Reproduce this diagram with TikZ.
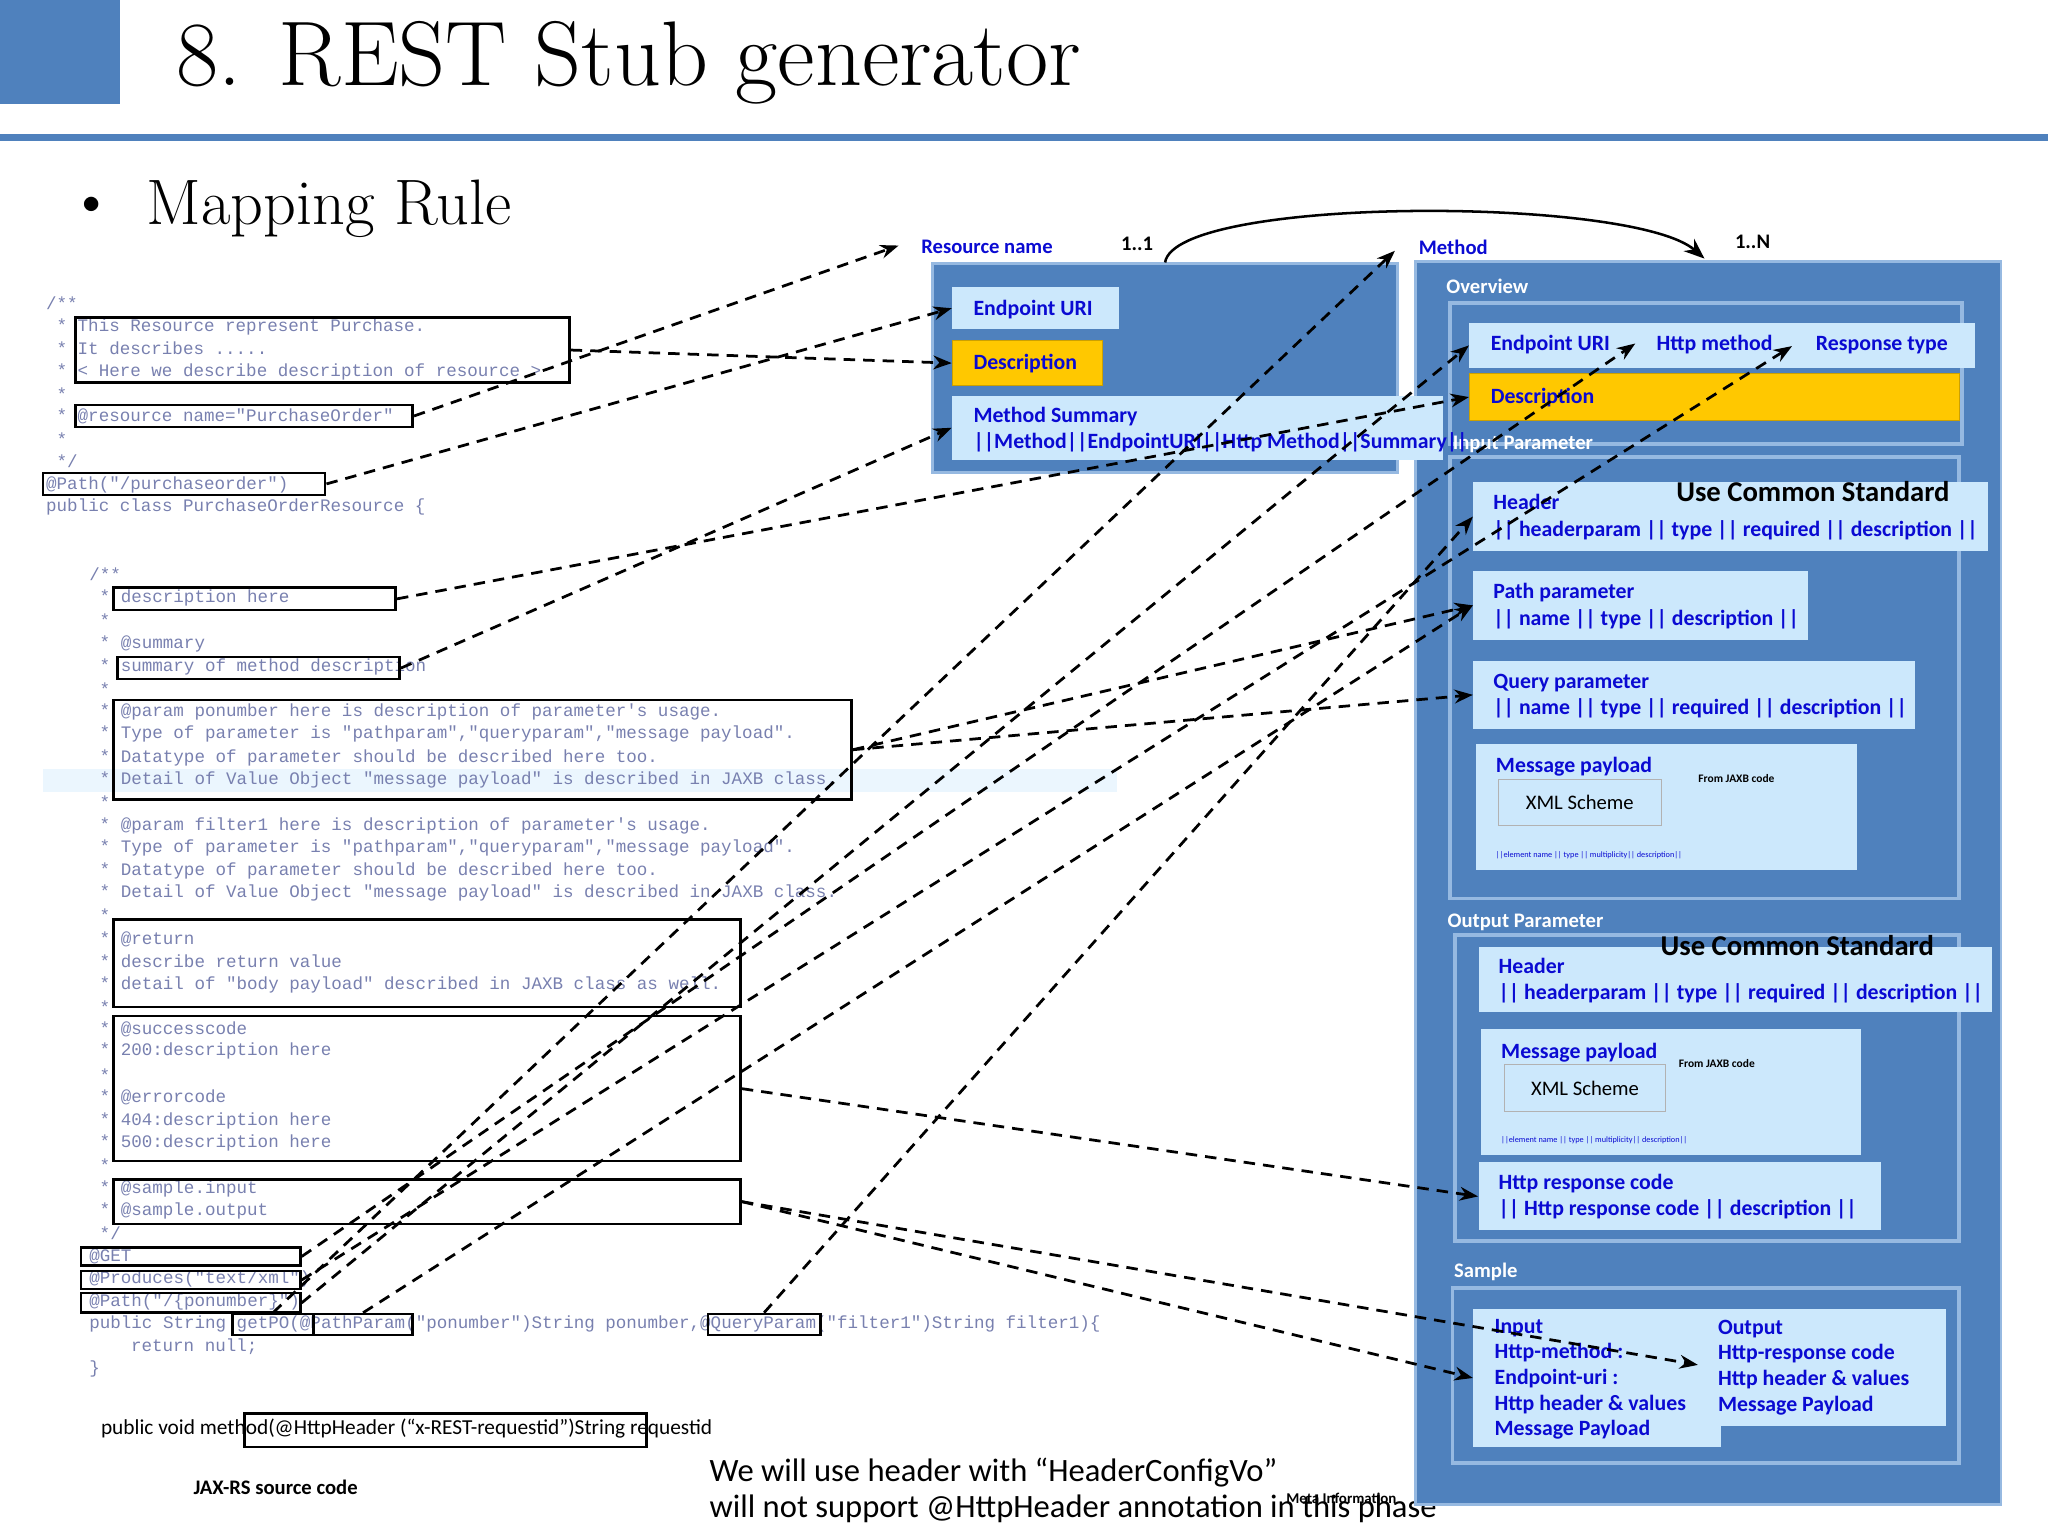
\documentclass[tikz,border=0pt]{standalone}
\usepackage{fontspec}
\usetikzlibrary{calc, arrows.meta, fit}
\newfontfamily\labelfont{Carlito}
\newfontfamily\codefont{Liberation Mono}
\definecolor{boxBlue}{RGB}{79,129,189}
\definecolor{frameBlue}{RGB}{150,185,225}
\definecolor{lightBlue}{RGB}{204,232,252}
\definecolor{textBlue}{RGB}{10,10,210}
\definecolor{descYellow}{RGB}{255,200,0}
\definecolor{codeGray}{RGB}{120,128,175}

\begin{document}
\begin{tikzpicture}[
    x=0.02cm, y=-0.02cm,
    code/.style={anchor=west, inner sep=0, text=codeGray, font=\codefont\fontsize{7.65}{8}\selectfont},
    cbox/.style={draw=black, line width=1.1pt, inner sep=0},
    bigbox/.style={fill=boxBlue, draw=frameBlue, line width=1.2pt, inner sep=0},
    lbox/.style={fill=lightBlue, inner sep=0},
    ybox/.style={fill=descYellow, draw=descYellow!80!black, inner sep=0},
    frame/.style={draw=frameBlue, line width=1.5pt, inner sep=0},
    lbl/.style={anchor=west, inner sep=0, text=textBlue, font=\labelfont\bfseries\fontsize{9.5}{11.5}\selectfont, align=left},
    sec/.style={anchor=west, inner sep=0, text=white, font=\labelfont\bfseries\fontsize{9}{11}\selectfont},
    ucs/.style={inner sep=0, font=\labelfont\bfseries\fontsize{12.5}{14}\selectfont},
    small/.style={anchor=west, inner sep=0, font=\labelfont\bfseries\fontsize{5}{6}\selectfont},
    tiny/.style={anchor=west, inner sep=0, text=textBlue, font=\labelfont\fontsize{3.6}{4}\selectfont},
    link/.style={draw=black, line width=1.2pt, dash pattern=on 5pt off 3.5pt, -{Stealth[length=8pt, width=6pt]}}
]
    \useasboundingbox (0,0) rectangle (1568,1176);

    % --- HEADER ---
    \fill[boxBlue] (0,0) rectangle (92,80);
    \draw[boxBlue, line width=3pt] (0,105) -- (1568,105);
    \node[anchor=west, inner sep=0, font=\fontsize{40}{44}\selectfont] (title) at (135,48) {8. REST Stub generator};
    \node[anchor=west, inner sep=0, font=\fontsize{28}{30}\selectfont] (bullet) at (52,160) {\textbullet};
    \node[anchor=west, inner sep=0, font=\fontsize{28}{30}\selectfont] (mapRule) at (112,160) {Mapping Rule};

    % --- JAX-RS CODE ---
    \fill[lightBlue!40] (33,589) rectangle (855,606);
    \node[code] at (35,232) {/**};
    \foreach \y/\t in {250/{* This Resource represent Purchase.}, 267/{* It describes .....},
        285/{* < Here we describe description of resource >}, 302/{*}, 319/{* @resource name="PurchaseOrder"},
        336/{*}, 353/{*/}} {
        \node[code] at (43,\y) {\t};
    }
    \node[code] at (35,371) {@Path("/purchaseorder")};
    \node[code] at (35,388) {public class PurchaseOrderResource \{};
    \node[code] at (68,440) {/**};
    \foreach \y/\t in {458/{* description here}, 475/{*}, 493/{* @summary}, 511/{* summary of method description}, 528/{*},
        545/{* @param ponumber here is description of parameter's usage.},
        562/{* Type of parameter is "pathparam","queryparam","message payload".},
        580/{* Datatype of parameter should be described here too.},
        597/{* Detail of Value Object "message payload" is described in JAXB class.}, 614/{*},
        632/{* @param filter1 here is description of parameter's usage.},
        649/{* Type of parameter is "pathparam","queryparam","message payload".},
        667/{* Datatype of parameter should be described here too.},
        684/{* Detail of Value Object "message payload" is described in JAXB class.}, 701/{*},
        719/{* @return}, 736/{* describe return value},
        754/{* detail of "body payload" described in JAXB class as well.}, 771/{*},
        788/{* @successcode}, 805/{* 200:description here}, 823/{*}, 840/{* @errorcode},
        858/{* 404:description here}, 875/{* 500:description here}, 892/{*},
        910/{* @sample.input}, 927/{* @sample.output}, 944/{*/}} {
        \node[code] at (76,\y) {\t};
    }
    \node[code] at (68,962) {@GET};
    \node[code] at (68,979) {@Produces("text/xml")};
    \node[code] at (68,997) {@Path("/\{ponumber\}")};
    \node[code] at (68,1014) {public String getPO(@PathParam("ponumber")String ponumber,@QueryParam("filter1")String filter1)\{};
    \node[code] at (100,1031) {return null;};
    \node[code] at (68,1048) {\}};

    % marked parts of the code
    \node[cbox, fit={(58,243) (436,293)}] (resDesc) {};
    \node[cbox, fit={(58,310) (316,327)}] (resName) {};
    \node[cbox, fit={(33,362) (249,379)}] (resPath) {};
    \node[cbox, fit={(87,450) (303,467)}] (mDescHere) {};
    \node[cbox, fit={(90,503) (306,520)}] (mSummary) {};
    \node[cbox, fit={(87,536) (652,612)}] (mParam) {};
    \node[cbox, fit={(87,704) (567,771)}] (mReturn) {};
    \node[cbox, fit={(87,778) (567,889)}] (mCodes) {};
    \node[cbox, fit={(87,903) (567,937)}] (mSample) {};
    \node[cbox, fit={(62,955) (230,969)}] (mGet) {};
    \node[cbox, fit={(62,973) (230,987)}] (mProduces) {};
    \node[cbox, fit={(62,990) (230,1005)}] (mPath) {};
    \node[cbox, fit={(178,1006) (240,1022)}] (mGetPO) {};
    \node[cbox, fit={(240,1006) (316,1022)}] (mPathParam) {};
    \node[cbox, fit={(542,1006) (628,1022)}] (mQueryParam) {};

    \node[anchor=west, inner sep=0, font=\labelfont\fontsize{9.3}{11}\selectfont] (httpHeader) at (77,1094)
        {public void method(@HttpHeader (“x-REST-requestid”)String requestid};
    \node[cbox, fit={(187,1082) (495,1108)}] (hdrMark) {};
    \node[inner sep=0, font=\labelfont\bfseries\fontsize{9}{11}\selectfont] (jaxrs) at (211,1139) {JAX-RS source code};
    \node[anchor=west, inner sep=0, align=left, font=\labelfont\fontsize{14.2}{16}\selectfont] (note) at (543,1141)
        {We will use header with “HeaderConfigVo”\\will not support @HttpHeader annotation in this phase};

    % --- METHOD BOX ---
    \node[bigbox, fit={(1084,200) (1532,1152)}] (methBox) {};
    \node[lbl, font=\labelfont\bfseries\fontsize{9}{11}\selectfont] (methLbl) at (1086,189) {Method};
    \node[anchor=west, inner sep=0, font=\labelfont\bfseries\fontsize{9}{11}\selectfont] (oneN) at (1328,185) {1..N};
    \node[sec] (overview) at (1107,219) {Overview};
    \node[frame, fit={(1110,232) (1502,340)}] (frmOverview) {};
    \node[lbox, fit={(1125,247) (1512,282)}] (rTop) {};
    \node[lbl] (rEp) at (1141,264) {Endpoint URI};
    \node[lbl] (rHttp) at (1268,264) {Http method};
    \node[lbl] (rResp) at (1390,264) {Response type};
    \node[ybox, fit={(1125,286) (1500,322)}] (rDesc) {};
    \node[lbl] at (1141,304) {Description};

    \node[sec] (inParam) at (1112,340) {Input Parameter};
    \node[frame, fit={(1110,350) (1500,688)}] (frmIn) {};
    \node[lbox, fit={(1128,369) (1522,422)}] (hdrIn) {};
    \node[lbl] at (1143,396) {Header\\|| headerparam || type || required || description ||};
    \node[ucs] at (1388,376) {Use Common Standard};
    \node[lbox, fit={(1128,437) (1384,490)}] (pathP) {};
    \node[lbl] at (1143,464) {Path parameter\\|| name || type || description ||};
    \node[lbox, fit={(1128,506) (1466,558)}] (queryP) {};
    \node[lbl] at (1143,533) {Query parameter\\|| name || type || required || description ||};
    \node[lbox, fit={(1130,570) (1422,666)}] (msgIn) {};
    \node[lbl] at (1145,587) {Message payload};
    \node[small] at (1300,596) {From JAXB code};
    \node[lbox, draw=gray!60, fit={(1147,597) (1272,632)}] (xmlIn) {};
    \node[font=\labelfont\fontsize{9}{11}\selectfont] at (xmlIn) {XML Scheme};
    \node[tiny] at (1145,655) {||element name || type || multiplicity|| description||};

    \node[sec] (outParam) at (1108,706) {Output Parameter};
    \node[frame, fit={(1114,716) (1500,950)}] (frmOut) {};
    \node[lbox, fit={(1132,725) (1525,775)}] (hdrOut) {};
    \node[lbl] at (1147,751) {Header\\|| headerparam || type || required || description ||};
    \node[ucs] at (1376,724) {Use Common Standard};
    \node[lbox, fit={(1134,788) (1425,884)}] (msgOut) {};
    \node[lbl] at (1149,806) {Message payload};
    \node[small] at (1285,814) {From JAXB code};
    \node[lbox, draw=gray!60, fit={(1152,815) (1275,851)}] (xmlOut) {};
    \node[font=\labelfont\fontsize{9}{11}\selectfont] at (xmlOut) {XML Scheme};
    \node[tiny] at (1149,873) {||element name || type || multiplicity|| description||};
    \node[lbox, fit={(1132,890) (1440,942)}] (httpResp) {};
    \node[lbl] at (1147,916) {Http response code\\|| Http response code || description ||};

    \node[sec] (sample) at (1113,974) {Sample};
    \node[frame, fit={(1112,986) (1500,1120)}] (frmSample) {};
    \node[lbox, fit={(1128,1002) (1318,1108)}] (sampIn) {};
    \node[lbl, font=\labelfont\bfseries\fontsize{9.5}{11.2}\selectfont] at (1144,1056)
        {Input\\Http-method :\\Endpoint-uri :\\Http header \& values\\Message Payload};
    \node[lbox, fit={(1300,1002) (1490,1092)}] (sampOut) {};
    \node[lbl, font=\labelfont\bfseries\fontsize{9.5}{11.2}\selectfont] at (1315,1047)
        {Output\\Http-response code\\Http header \& values\\Message Payload};
    \node[font=\labelfont\bfseries\fontsize{6.5}{7}\selectfont, inner sep=0] (metaInfo) at (1027,1147) {Meta Information};

    % --- RESOURCE BOX ---
    \node[bigbox, fit={(714,202) (1070,362)}] (resBox) {};
    \node[lbl, font=\labelfont\bfseries\fontsize{9}{11}\selectfont] (resLbl) at (705,189) {Resource name};
    \node[anchor=west, inner sep=0, font=\labelfont\bfseries\fontsize{9}{11}\selectfont] (oneOne) at (858,187) {1..1};
    \node[lbox, fit={(729,220) (857,252)}] (mEp) {};
    \node[lbl] at (745,237) {Endpoint URI};
    \node[ybox, fit={(729,261) (844,295)}] (mDesc) {};
    \node[lbl] at (745,278) {Description};
    \node[lbox, fit={(729,303) (1105,352)}] (mSum) {};
    \node[lbl] at (745,329) {Method Summary\\||Method||EndpointURI||Http Method||Summary||};

    % --- CONNECTORS ---
    \coordinate (rnTip) at (688,188);
    \coordinate (methTip) at (1068,192);
    \coordinate (httpTip) at (1252,263);
    \coordinate (respTip) at (1372,265);
    \coordinate (httpMTip) at (1300,1045);
    \draw[line width=1.1pt, -{Stealth[length=9pt, width=7pt]}] (resBox.north) .. controls (900,150) and (1250,150) .. (1305,198);
    \draw[link] (resName.east) -- (rnTip);
    \draw[link] (resDesc.east) -- (mDesc.west);
    \draw[link] (resPath.east) -- (mEp.west);
    \draw[link] (mDescHere.east) -- (rDesc.west);
    \draw[link] (mSummary.east) -- (mSum.west);
    \draw[link] (mParam.east) -- (pathP.west);
    \draw[link] (mParam.east) -- (queryP.west);
    \draw[link] (mGetPO.north) -- (methTip);
    \draw[link] (mGet.east) -- (httpTip);
    \draw[link] (mProduces.east) -- (respTip);
    \draw[link] (mPath.east) -- (rTop.west);
    \draw[link] (mPathParam.north) -- (pathP.west);
    \draw[link] (mQueryParam.north) -- (hdrIn.west);
    \draw[link] (mCodes.east) -- (httpResp.west);
    \draw[link] (mSample.east) -- (sampIn.west);
    \draw[link] (mSample.east) -- (httpMTip);
\end{tikzpicture}
\end{document}
